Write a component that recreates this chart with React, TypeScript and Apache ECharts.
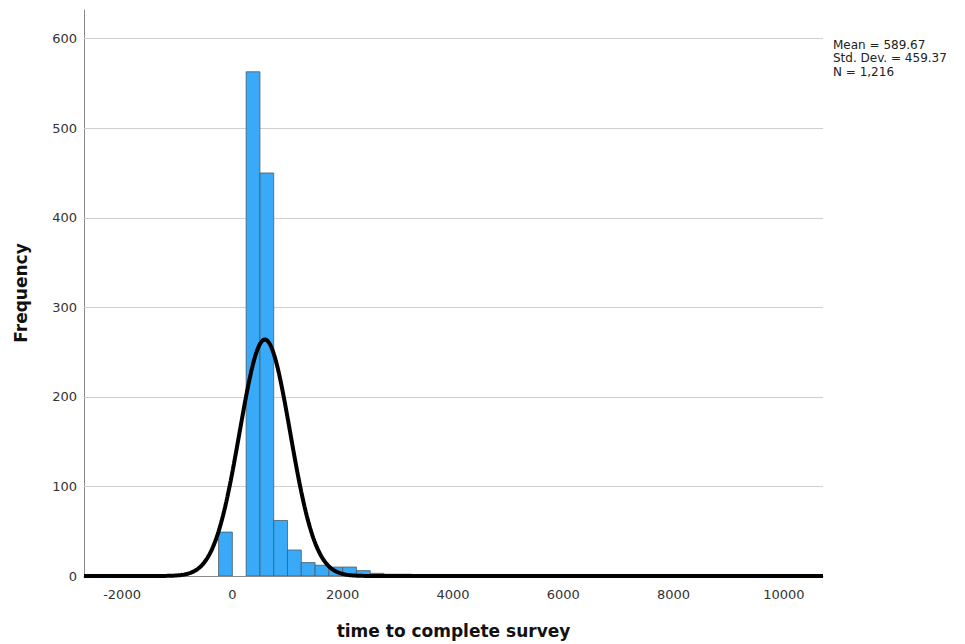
import React, { useEffect, useRef } from "react";
import * as echarts from "echarts";

// ---- Data ----
const BIN_WIDTH = 250;
const binStarts = [-250, 0, 250, 500, 750, 1000, 1250, 1500, 1750, 2000, 2250, 2500, 2750, 3000, 3250, 4000, 10250];
const counts = [49, 0, 563, 450, 62, 29, 15, 12, 10, 10, 6, 3, 2, 2, 1, 1, 1];

// Summary statistics shown in the chart (used for the fitted normal curve)
const MEAN = 589.67;
const STD_DEV = 459.37;
const N = 1216;

const X_MIN = -2690;
const X_MAX = 10710;
const X_TICKS = [-2000, 0, 2000, 4000, 6000, 8000, 10000];
const Y_MAX = 632;
const Y_TICKS = [0, 100, 200, 300, 400, 500, 600];
const GRID_LINES = [100, 200, 300, 400, 500, 600];

const statsLines = ["Mean = 589.67", "Std. Dev. = 459.37", "N = 1,216"];

const FONT = "DejaVu Sans";

export default function App() {
  const ref = useRef<HTMLDivElement>(null);

  useEffect(() => {
    if (!ref.current) return;
    const chart = echarts.init(ref.current, undefined, { renderer: "svg" });

    const barData = binStarts.map((s, i) => [s, s + BIN_WIDTH, counts[i]]);

    // Fitted normal curve scaled to frequency: N * binWidth * pdf(x)
    const curve: number[][] = [];
    const scale = (N * BIN_WIDTH) / (STD_DEV * Math.sqrt(2 * Math.PI));
    for (let x = X_MIN; x <= X_MAX; x += 20) {
      const z = (x - MEAN) / STD_DEV;
      curve.push([x, scale * Math.exp(-0.5 * z * z)]);
    }

    chart.setOption({
      animation: false,
      backgroundColor: "#ffffff",
      grid: { left: 84, right: 142, top: 10, bottom: 65, containLabel: false },
      xAxis: {
        type: "value",
        min: X_MIN,
        max: X_MAX,
        splitNumber: 7,
        name: "time to complete survey",
        nameLocation: "middle",
        nameGap: 46,
        nameTextStyle: { fontFamily: FONT, fontSize: 17, fontWeight: "bold", color: "#111" },
        axisLine: { show: true, onZero: false, lineStyle: { color: "#8a8a8a", width: 1 } },
        axisTick: { show: false },
        splitLine: { show: false },
        axisLabel: {
          fontFamily: FONT,
          fontSize: 13,
          color: "#333",
          margin: 12,
          showMinLabel: false,
          showMaxLabel: false,
          formatter: (v: number) => (X_TICKS.indexOf(v) >= 0 ? String(v) : ""),
        },
      },
      yAxis: {
        type: "value",
        min: 0,
        max: Y_MAX,
        interval: 100,
        name: "Frequency",
        nameLocation: "middle",
        nameGap: 55,
        nameRotate: 90,
        nameTextStyle: { fontFamily: FONT, fontSize: 17, fontWeight: "bold", color: "#111" },
        axisLine: { show: true, onZero: false, lineStyle: { color: "#8a8a8a", width: 1 } },
        axisTick: { show: false },
        splitLine: { show: false },
        axisLabel: {
          fontFamily: FONT,
          fontSize: 13,
          color: "#333",
          margin: 7,
          showMaxLabel: false,
          formatter: (v: number) => (Y_TICKS.indexOf(v) >= 0 ? String(v) : ""),
        },
      },
      series: [
        {
          type: "custom",
          clip: true,
          data: barData,
          encode: { x: [0, 1], y: 2 },
          renderItem: (params: any, api: any) => {
            const s = api.value(0);
            const e = api.value(1);
            const c = api.value(2);
            if (!c) return null;
            const p0 = api.coord([s, c]);
            const p1 = api.coord([e, 0]);
            return {
              type: "rect",
              shape: { x: p0[0], y: p0[1], width: p1[0] - p0[0], height: p1[1] - p0[1] },
              style: { fill: "#38aaf7", stroke: "#4c5a66", lineWidth: 0.8 },
            };
          },
          z: 3,
          markLine: {
            silent: true,
            z: 1,
            symbol: ["none", "none"],
            label: { show: false },
            lineStyle: { color: "#cfcfcf", width: 1, type: "solid" },
            emphasis: { disabled: true },
            data: GRID_LINES.map((v) => ({ yAxis: v })),
          },
        },
        {
          type: "line",
          data: curve,
          showSymbol: false,
          symbol: "none",
          smooth: false,
          lineStyle: { color: "#000", width: 4 },
          z: 5,
        },
      ],
      graphic: [
        {
          type: "text",
          left: 833,
          top: 38,
          style: {
            text: statsLines.join("\n"),
            fontFamily: FONT,
            fontSize: 12,
            lineHeight: 13.5,
            fill: "#222",
          },
        },
      ],
    });

    return () => chart.dispose();
  }, []);

  return (
    <div
      ref={ref}
      style={{ position: "fixed", left: 0, top: 0, width: 965, height: 644, background: "#fff" }}
    />
  );
}
